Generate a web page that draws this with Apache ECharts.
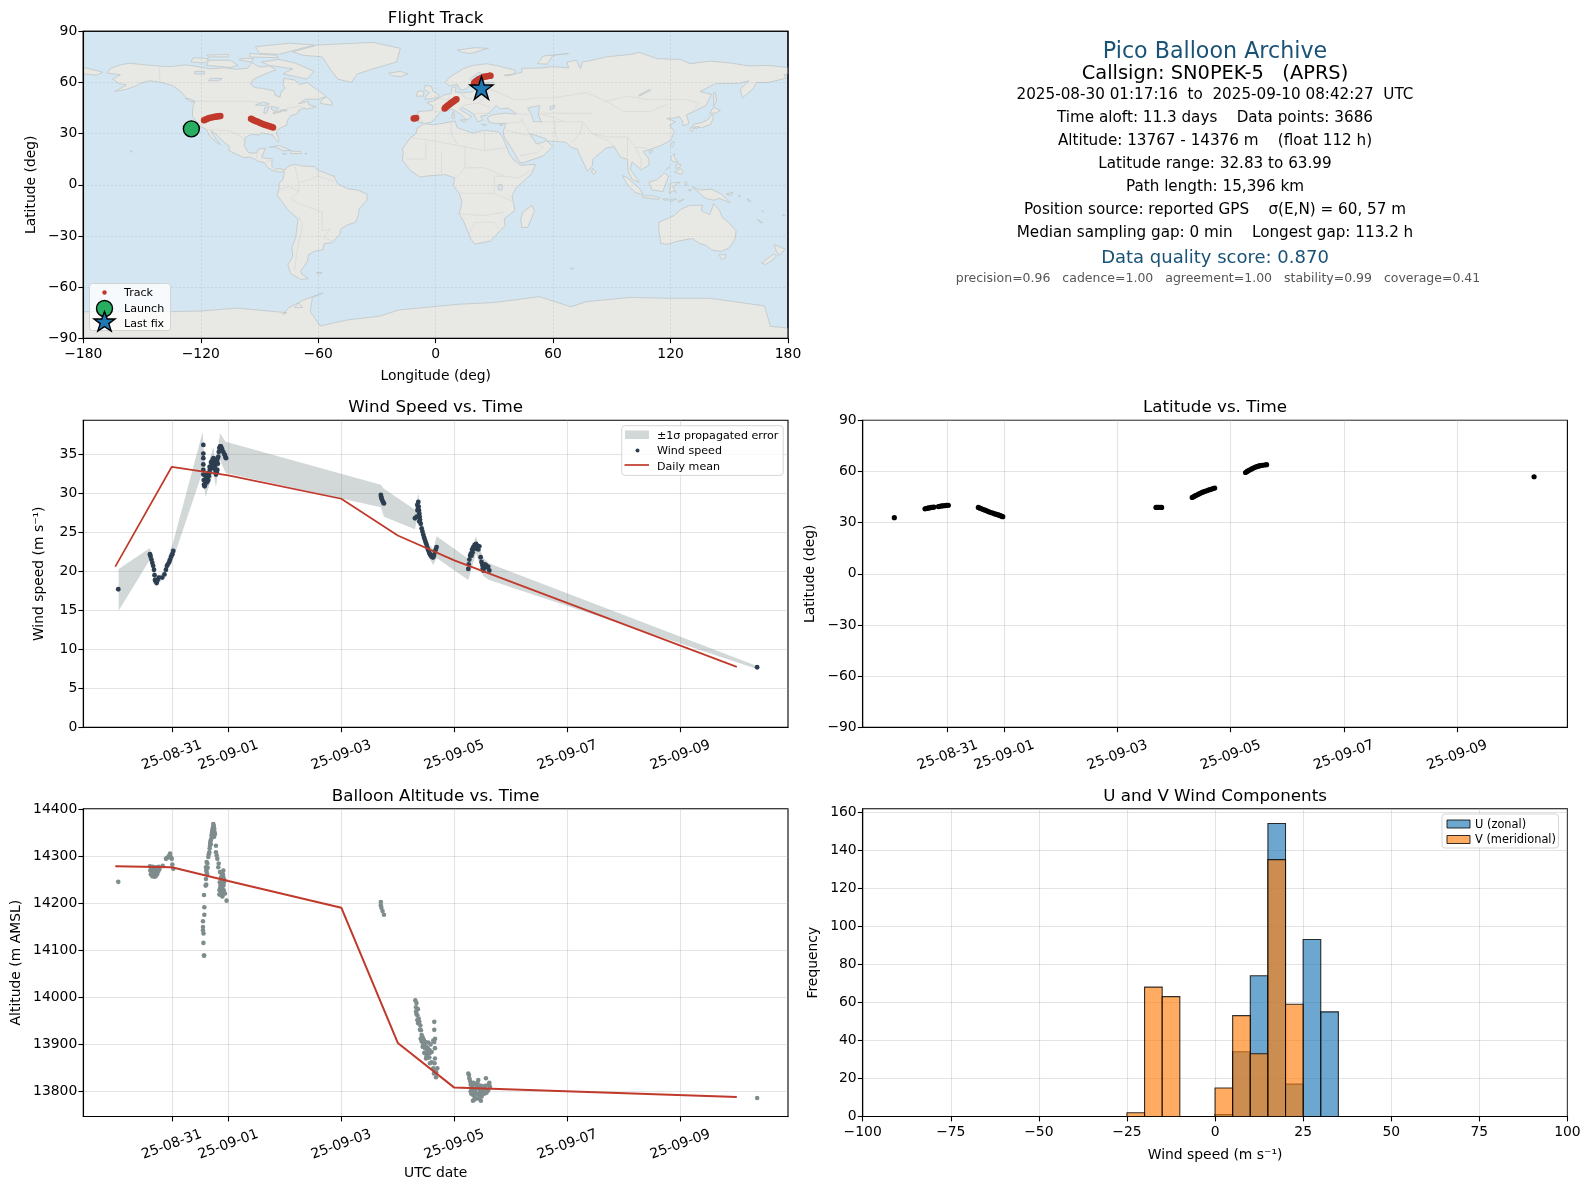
<!DOCTYPE html>
<html><head><meta charset="utf-8">
<style>html,body{margin:0;padding:0;background:#fff}#c{width:1590px;height:1189px}</style>
<script src="https://cdn.jsdelivr.net/npm/echarts@6/dist/echarts.min.js"></script>
</head><body><div id="c"></div>
<script>
// ---------- data: time is days from 2025-09-01 00:00 UTC ----------
const dateTickDays = [-1, 0, 2, 4, 6, 8];
const dateTickLabels = ['25-08-31', '25-09-01', '25-09-03', '25-09-05', '25-09-07', '25-09-09'];
const windTicks = [0, 5, 10, 15, 20, 25, 30, 35];
const altTicks = [13800, 13900, 14000, 14100, 14200, 14300, 14400];
const freqTicks = [0, 20, 40, 60, 80, 100, 120, 140, 160];

const windPoints = [[-1.947,17.7],
[-1.386,22.2],[-1.375,21.9],[-1.36,21.5],[-1.345,21.1],[-1.33,20.7],[-1.315,20.2],[-1.305,19.5],[-1.297,18.9],[-1.285,18.7],[-1.268,18.5],[-1.25,18.9],[-1.227,19.2],[-1.168,19.2],[-1.13,19.6],[-1.103,20.2],[-1.085,20.7],[-1.07,20.9],[-1.044,21.2],[-1.03,21.5],[-1.01,21.9],[-.99,22.2],[-.974,22.6],
[-.442,36.2],[-.442,35.1],[-.442,34.5],[-.442,33.7],[-.442,33.0],[-.442,32.4],[-.435,31.7],[-.43,31.1],[-.42,30.9],[-.413,31.0],[-.405,31.5],[-.395,31.9],[-.38,31.4],[-.365,31.6],[-.354,31.7],[-.345,32.2],[-.336,32.6],[-.325,33.0],[-.312,33.4],[-.295,33.9],[-.277,34.3],[-.262,34.5],[-.248,34.3],[-.242,33.8],[-.236,33.4],[-.226,32.9],[-.218,32.4],[-.205,32.7],[-.194,33.0],[-.185,33.8],[-.177,34.7],[-.168,35.3],[-.159,35.8],[-.145,36.0],[-.13,36.0],[-.11,35.7],[-.088,35.3],[-.068,35.0],[-.047,34.6],[-.06,34.9],[-.04,34.5],
[-.4,32.2],[-.375,32.4],[-.35,32.6],[-.33,33.4],[-.305,34.0],[-.285,33.4],[-.27,33.4],[-.255,33.2],[-.2,34.2],[-.19,34.5],
[2.70,29.8],[2.705,29.6],[2.71,29.4],[2.72,29.2],[2.73,29.0],[2.745,28.8],[2.755,28.7],
[3.304,26.8],[3.334,27.0],[3.35,27.8],[3.363,28.9],[3.369,28.3],[3.375,27.8],[3.381,27.4],[3.387,27.0],[3.393,26.6],[3.405,26.1],[3.422,25.5],[3.436,25.1],[3.451,24.7],[3.466,24.3],[3.481,24.0],[3.495,23.7],[3.51,23.4],[3.525,23.0],[3.54,22.7],[3.555,22.4],[3.569,22.2],[3.585,22.0],[3.599,21.9],[3.615,21.8],[3.628,21.8],[3.642,22.1],[3.658,22.5],[3.672,22.8],[3.687,23.1],
[3.345,28.5],[3.358,28.0],[3.37,27.0],[3.38,26.4],
[4.248,20.3],[4.255,20.9],[4.266,21.5],[4.28,22.0],[4.295,22.3],[4.315,22.8],[4.336,23.1],[4.36,23.4],[4.384,23.5],[4.41,23.3],[4.443,23.2],[4.466,21.8],[4.482,21.2],[4.496,20.8],[4.505,20.4],[4.513,20.1],[4.53,20.5],[4.56,20.8],[4.58,20.5],[4.6,20.6],[4.62,20.1],
[4.305,22.0],[4.325,22.4],[4.35,22.9],[4.375,23.0],[4.4,22.9],[4.425,22.8],[4.54,20.9],
[9.36,7.7]];

const windBandUpper = [[-1.941,20.3],[-1.386,23.0],[-1.28,19.5],[-1.168,19.7],[-.974,23.8],[-.453,37.9],[-.405,32.6],[-.264,35.9],[-.218,33.6],[-.147,37.7],[-.047,36.6],[2.70,31.1],[2.755,30.6],[3.304,27.9],[3.363,30.0],[3.422,26.6],[3.54,23.6],[3.628,22.8],[3.687,24.5],[4.248,21.6],[4.384,24.5],[4.513,21.7],[4.62,21.0],[9.345,7.9]];
const windBandLower = [[-1.941,14.95],[-1.386,21.5],[-1.28,18.1],[-1.168,18.9],[-.974,21.6],[-.453,32.8],[-.405,29.5],[-.264,32.6],[-.218,30.8],[-.147,34.3],[-.047,32.6],[2.70,28.2],[2.755,27.0],[3.304,25.4],[3.363,27.4],[3.422,24.5],[3.54,21.9],[3.628,20.8],[3.687,21.7],[4.248,18.9],[4.384,22.3],[4.513,19.4],[4.62,18.9],[9.345,7.5]];

const windDailyMean = [[-2,20.6],[-1,33.4],[0,32.3],[2,29.3],[3,24.6],[4,21.4],[9,7.75]];
const altDailyMean = [[-2,14279],[-1,14277],[0,14248],[2,14191],[3,13903],[4,13808],[9,13788]];

const altPoints = [[-1.947,14246],
[-1.386,14279],[-1.38,14270],[-1.37,14262],[-1.36,14275],[-1.35,14265],[-1.345,14258],[-1.335,14278],[-1.33,14268],[-1.32,14260],[-1.31,14257],[-1.305,14272],[-1.295,14264],[-1.285,14258],[-1.28,14277],[-1.27,14268],[-1.26,14262],[-1.25,14275],[-1.24,14268],[-1.23,14278],[-1.22,14273],[-1.16,14280],
[-1.103,14295],[-1.085,14297],[-1.06,14299],[-1.045,14302],[-1.03,14306],[-1.015,14298],[-1.0,14295],[-.99,14283],[-.974,14274],
[-.43,14089],[-.428,14089],[-.44,14116],[-.438,14136],[-.448,14143],[-.448,14150],[-.448,14162],[-.424,14176],[-.424,14192],[-.43,14218],
[-.401,14238],[-.395,14252],[-.383,14267],[-.395,14277],[-.365,14276],[-.383,14288],[-.354,14299],[-.336,14309],[-.324,14323],[-.33,14317],[-.312,14334],[-.32,14329],[-.295,14345],[-.3,14338],[-.283,14355],[-.29,14350],[-.265,14369],[-.27,14362],[-.248,14359],[-.26,14352],[-.236,14348],[-.25,14342],
[-.275,14358],[-.255,14365],[-.245,14352],[-.28,14345],[-.31,14326],[-.39,14270],[-.375,14262],[-.39,14240],[-.37,14285],[-.345,14305],
[-.218,14323],[-.218,14309],[-.205,14302],[-.194,14295],[-.177,14277],[-.17,14285],[-.147,14267],[-.118,14263],[-.088,14270],[-.088,14256],[-.077,14245],[-.118,14242],[-.147,14231],[-.159,14219],[-.1,14228],[-.059,14221],[-.03,14206],[-.13,14255],[-.1,14250],[-.085,14238],[-.11,14232],[-.135,14225],[-.09,14222],[-.105,14215],[-.07,14250],[-.095,14262],[-.15,14245],[-.14,14238],[-.12,14250],[-.1,14240],[-.08,14228],[-.155,14228],[-.125,14218],
[2.70,14203],[2.70,14196],[2.71,14191],[2.73,14184],[2.755,14176],
[3.31,13994],[3.322,13979],[3.322,13970],[3.345,13962],[3.345,13952],[3.381,13948],[3.393,13931],[3.422,13920],[3.422,13906],[3.451,13899],[3.481,13892],[3.481,13881],[3.51,13874],[3.558,13872],[3.569,13860],[3.628,13849],[3.658,13842],[3.676,13830],[3.699,13849],[3.658,13870],[3.658,13892],[3.628,13908],[3.646,13931],[3.646,13948],[3.54,13904],[3.599,13884],[3.5,13895],[3.52,13885],[3.46,13910],[3.4,13940],[3.37,13955],[3.33,13988],[3.54,13880],[3.5,13870],
[3.33,13965],[3.355,13975],[3.36,13945],[3.41,13930],[3.405,13912],[3.44,13915],[3.44,13895],[3.47,13900],[3.47,13882],[3.49,13905],[3.5,13882],[3.53,13892],[3.53,13872],[3.56,13888],[3.58,13900],[3.645,13905],[3.66,13912],[3.65,13860],[3.68,13840],[3.64,13838],[3.57,13882],[3.6,13862],
[4.248,13838],[4.266,13828],[4.29,13814],[4.307,13803],[4.337,13792],[4.366,13785],[4.396,13810],[4.425,13824],[4.455,13799],[4.484,13789],[4.513,13810],[4.56,13828],[4.602,13814],[4.631,13810],[4.32,13812],[4.366,13801],[4.425,13806],[4.484,13804],[4.54,13804],[4.58,13804],[4.35,13782],[4.41,13795],[4.44,13785],[4.47,13812],[4.53,13795],[4.3,13795],[4.38,13815],
[4.26,13835],[4.28,13822],[4.29,13800],[4.31,13815],[4.335,13805],[4.35,13797],[4.38,13795],[4.41,13818],[4.44,13812],[4.46,13792],[4.5,13798],[4.52,13802],[4.55,13812],[4.57,13797],[4.6,13802],[4.62,13818],[4.33,13780],[4.4,13785],[4.47,13780],[4.34,13818],
[9.36,13786]];

const latPoints = [[-1.943,32.9],
[-1.401,38.1],[-1.38,38.3],[-1.361,38.4],[-1.34,38.6],[-1.313,38.7],[-1.29,38.9],[-1.265,39.0],[-1.242,39.1],
[-1.165,39.4],[-1.14,39.6],[-1.106,39.8],[-1.08,39.9],[-1.047,40.0],[-1.02,40.1],[-.989,40.2],
[-.459,38.9],[-.43,38.5],[-.4,38.1],[-.371,37.7],[-.34,37.3],[-.31,36.9],[-.282,36.5],[-.25,36.1],[-.22,35.8],[-.194,35.5],[-.165,35.1],[-.135,34.8],[-.106,34.5],[-.08,34.2],[-.05,33.8],[-.028,33.5],
[2.68,38.9],[2.7,39.0],[2.72,39.0],[2.75,39.0],[2.78,38.9],
[3.32,44.8],[3.35,45.3],[3.375,45.8],[3.40,46.2],[3.43,46.7],[3.46,47.2],[3.487,47.6],[3.515,48.0],[3.545,48.4],[3.575,48.7],[3.605,49.1],[3.635,49.4],[3.664,49.7],[3.69,50.0],[3.717,50.3],
[4.263,59.4],[4.29,60.0],[4.315,60.5],[4.34,61.0],[4.37,61.5],[4.4,62.0],[4.428,62.4],[4.458,62.8],[4.487,63.1],[4.516,63.4],[4.555,63.6],[4.595,63.8],[4.634,63.99],
[9.36,56.9]];

const trackPoints = [[-118.3,37.8],[-117.5,38.3],[-116.6,38.7],[-115.7,39.1],[-114.5,39.4],[-113.4,39.7],[-112.6,39.9],[-111.8,40.1],[-110.9,40.2],[-110,40.3],
[-94.3,38.7],[-93.4,38.2],[-92.6,37.7],[-91.7,37.3],[-90.9,37.0],[-89.9,36.4],[-89,35.9],[-88,35.5],[-87,35.1],[-86,34.7],[-85,34.4],[-84,34.0],[-83.1,33.6],
[-11.2,38.8],[-10.6,39.0],[-10,39.1],
[4.6,44.8],[5.2,45.4],[5.8,46],[6.4,46.6],[7,47.1],[7.6,47.7],[8.2,48.2],[8.8,48.7],[9.4,49.2],[10,49.7],[10.6,50.2],
[19.6,59.6],[20.2,60.4],[21,61],[21.8,61.7],[22.6,62.2],[23.5,62.7],[24.5,63.2],[25.5,63.5],[26.5,63.7],[27.5,63.9],[28,64]];
const launchPoint = [-124.8, 32.8];
const lastFixPoint = [23.4, 56.9];

const histEdgesU = [[0,5,1],[5,10,34],[10,15,74],[15,20,154],[20,25,17],[25,30,93],[30,35,55]];
const histEdgesV = [[-25,-20,2],[-20,-15,68],[-15,-10,63],[0,5,15],[5,10,53],[10,15,33],[15,20,135],[20,25,59]];

const mainlandShapes = [
// North America
[[-168,65.5],[-166,68.3],[-161,70.3],[-156.5,71.3],[-150,70.5],[-141,69.6],[-135,69.3],[-128,70.3],[-124,69.8],[-115,68],[-108,68.6],[-102,67.8],[-96,68.3],[-94,71.8],[-90,69],[-85,69.7],[-81.5,67.5],[-87,65],[-93,62],[-94.5,59],[-92.5,57],[-88,56.5],[-82.5,55],[-82,52.5],[-79.5,51.3],[-79,54.5],[-76.8,56.5],[-78,58.8],[-77.5,62.4],[-72,61.5],[-69.5,58.8],[-65.5,60],[-61.5,56.5],[-57,53],[-56,51.7],[-60,50.2],[-66.5,50.2],[-70,47.5],[-65,49],[-64.8,47],[-61,45.8],[-66,44.3],[-67,45],[-70,43.7],[-70.5,41.7],[-74,40.6],[-75.8,37.5],[-76,35],[-78.5,33.8],[-81,32],[-81.3,30],[-80,26.8],[-80.5,25.2],[-82,26.8],[-83,29],[-85,29.7],[-89,30.3],[-90,29.2],[-94,29.6],[-97.3,27.8],[-97.7,22.5],[-95.5,18.8],[-91.5,18.5],[-90.5,21],[-87,21.5],[-88.3,17.5],[-88.8,15.9],[-83.5,15.2],[-83.7,11],[-82,9],[-79.5,9.5],[-77.3,8.6],[-78,7.5],[-80.5,7.5],[-83,8.3],[-85.7,10],[-87.5,13],[-91,14],[-94.5,16.2],[-98,16],[-102,18],[-105.5,20],[-105.5,22.5],[-109,26],[-112.5,30],[-114.8,31.7],[-113,28],[-110,23.5],[-112,25],[-115,28],[-117.2,32.5],[-120.6,34.5],[-122.5,37.7],[-124.3,40.3],[-124,46],[-123,49],[-127.5,51],[-130,54.5],[-134,58],[-140,60],[-146,61],[-151,59.5],[-153,58],[-158,56],[-164,54.7],[-158,58.5],[-162,59.5],[-165,62],[-161,64.5]],
// South America
[[-77.3,8.6],[-75,11],[-72,12],[-68,11],[-62,10.7],[-60,8.5],[-52,5],[-50,0.5],[-44.5,-2.5],[-40,-3],[-35,-5.5],[-35,-9],[-39,-14],[-39.5,-18],[-41,-22],[-45,-23.5],[-48.5,-26],[-49,-29],[-53,-34],[-57,-34.5],[-57.5,-38],[-62,-39],[-65,-41],[-65.5,-45],[-69,-50.5],[-68.3,-52.5],[-65,-55],[-69,-55.5],[-74,-52],[-75.5,-47],[-73,-42],[-73.5,-37],[-71.5,-31],[-70.3,-20],[-76,-14],[-81,-6],[-80,-2.5],[-80,1],[-78,3],[-77.5,6]],
// Africa
[[-6,35.8],[-1,35.2],[10,37.3],[11,33.5],[19,30.3],[25,32],[32,31],[34.2,28],[36,23],[37.5,18.5],[39.5,15],[43.3,11.5],[51,12],[49,6.5],[41,-2],[39,-6.5],[40.5,-15],[35,-20],[35.5,-24],[32.8,-27],[28,-33],[20,-34.8],[18,-32],[14.5,-22],[12,-17],[13.5,-10],[12,-5],[9,-0.5],[9.7,4],[5,6],[-4,5.2],[-8,4.5],[-13,8.5],[-17,14.5],[-16.5,19],[-17,21],[-13,27.5],[-10,30],[-9.5,33]],
// Eurasia
[[-9,37],[-9.3,39],[-9,43],[-2,43.5],[-1.2,46],[-4.5,48.3],[-1.5,49],[2,51],[4,52.5],[8,53.7],[8.3,57],[10.5,57.5],[10,54.5],[14,54],[19,54.5],[21,57],[24,57.3],[23.5,59.3],[30,60],[23,60],[21.3,62],[25,65],[22,65.8],[17.5,62],[18.8,60],[16.5,57],[14,55.5],[12.5,56],[11,59],[7,58],[5,60],[7,63],[14,68],[19,70],[26,71],[31,70],[41,67],[40,65],[35,64.3],[37,63.9],[44,66],[44,68.3],[54,68.5],[60,69.3],[68,68.5],[67,72],[72,73],[74,68],[75,72],[80,73],[87,75],[100,76.5],[104,77.7],[113,74],[125,73.5],[130,71],[140,72.5],[150,71.5],[160,69.7],[170,70],[180,68.8],[180,65],[178,64.5],[179,62.5],[170,60],[164,60],[162,56],[156.7,51],[155.5,56],[160,61],[155,59.5],[143,59.3],[135,54.7],[141,53],[138,46.5],[132,43],[128,41],[129.5,36],[126.5,34.5],[126,37.5],[124.5,40],[121.5,39],[118,39],[122.5,37],[119.5,35],[122,31],[120,26],[114,22.5],[110,21],[106,19.5],[109,15],[109,11.5],[105,8.8],[100.3,13.5],[99.5,9],[104,1.5],[100.5,3],[98.3,8],[98,15],[94.5,16],[91,22.5],[87,21.5],[80.3,15],[80,11],[77.5,8],[73,19],[72.5,21],[69,22],[66.5,25],[57,25.7],[56.3,27],[51,29],[48,30],[50,26.5],[51.5,24],[55,25],[56.5,26],[59.8,22.5],[55,17],[45,13],[43,13],[39,21],[35,28],[34.5,31],[36,36],[30,36],[27,37],[26.5,39.5],[29,41],[35,42],[41.5,41.5],[37,45],[33,44.5],[31,46.5],[28,43],[26,40.8],[23,40.3],[24,37.8],[21.5,37],[19.5,41.5],[13.5,45.5],[12.3,44.2],[18.5,40],[16,38],[12,42],[8.5,44.3],[3,43.2],[0,39.5],[-2,36.8],[-5.5,36]],
// Chukotka west of the date line
[[-180,68.8],[-175,67.5],[-170,66],[-173,64.3],[-180,65]],
// Antarctica
[[-180,-74.4],[-136,-74.4],[-120,-74],[-101.6,-72.3],[-90,-73.5],[-76,-75],[-78,-76],[-75,-72],[-67.6,-67.6],[-57.5,-63.3],[-63,-66],[-64,-74.4],[-59,-82.8],[-45.5,-79.3],[-28.4,-77],[-19,-73.4],[12,-70],[30,-69],[53,-65.6],[69,-71.5],[77,-68.5],[100,-66],[116,-66.5],[140,-66.5],[168,-71],[171,-83],[180,-84],[180,-90],[-180,-90]]
];
const islandShapes = [
// Greenland
[[-73,78],[-60,82],[-32,83.5],[-18,80],[-20,72],[-32,68],[-40,65],[-43,60],[-50,62],[-54,68],[-58,75],[-68,76]],
// Arctic Canada
[[-80,73.5],[-72,71.5],[-62,66.5],[-66,62],[-72,63.5],[-78,65],[-73,68],[-85,70],[-89,72]],
[[-117,70],[-105,68.8],[-101,70],[-105,73],[-116,73]],
[[-90,77],[-80,76.5],[-62,82],[-75,83],[-92,81]],
[[-125,72],[-118,71.5],[-116,74],[-124,74.5]],
[[-95,75],[-80,74.5],[-82,76],[-95,77]],
[[-116,75],[-106,75],[-106,76.5],[-117,76]],
[[-100,73],[-94,72],[-93,74],[-100,74]],
[[-59,47.7],[-53,46.7],[-53,48.8],[-56,51.5],[-58,50]],
[[-128,50.8],[-125,50],[-123.5,48.5],[-125.5,48.8]],
// Caribbean
[[-85,22],[-80,23],[-74,20.2],[-78,19.9],[-82,22.3]],
[[-74,19.8],[-69,19.5],[-68.5,18.4],[-74,18.2]],
[[-78.3,18.4],[-76.3,18.2],[-77,17.8]],
[[-67,18.4],[-65.7,18.3],[-66,18]],
// Hawaii
[[-156,20],[-155,19.8],[-155.5,19]],
// Falklands
[[-61,-51.5],[-58,-51.5],[-59.5,-52.3]],
// Europe islands
[[-5.5,50],[1.5,51.2],[1.7,52.8],[-1.5,55],[-2,57.5],[-5,58.6],[-6,56],[-3,54],[-5,52]],
[[-10,52],[-6.2,52],[-6,54.8],[-9,55]],
[[-24,65.5],[-18,66.5],[-14,65],[-18,63.4],[-22.5,64]],
[[11,79],[20,80.4],[27,80],[18,77],[14,77.5]],
[[52,71],[57,70.7],[60,76],[68,77],[55,75.5]],
[[12.5,38],[15.5,38.2],[15,36.7]],
[[8.2,41],[9.7,41],[9.5,39],[8.5,39]],
[[9,43],[9.5,42.7],[9.2,41.5],[8.7,41.8]],
[[23.5,35.5],[26,35.2],[24.5,34.9]],
[[32.5,35],[34.5,35.6],[33.5,34.6]],
// Africa / Indian Ocean
[[49.3,-12],[50.5,-15.5],[47,-25],[44,-25],[43.5,-20],[44.5,-16]],
[[80,9.7],[82,7.5],[80.7,5.9],[79.8,7.5]],
[[69,-48.8],[70.5,-49],[69.5,-49.7]],
// East Asia
[[131,34],[136,33.5],[140.5,35.5],[142,39.5],[141,41.5],[139.5,38.5],[136,36.5],[132,35.5]],
[[140,42],[143,42],[145.5,43.5],[142,45.5]],
[[130,33.5],[132,33],[131,31],[130,32]],
[[132.5,34],[134.5,34.2],[134,33.4],[132.8,32.9]],
[[142,46],[143.5,49],[143,54],[142,54],[142,50]],
[[120,23],[121,22],[122,25],[121,25]],
[[109,20],[111,20],[109.5,18.3]],
// Southeast Asia
[[120,16],[122,18.5],[122,16],[124,13],[121,13.7]],
[[122,7.5],[125.5,6],[126.5,8],[125,9.5]],
[[122.5,11.5],[125,12.3],[125,10.5],[123,9.5]],
[[117.5,8.5],[119.5,11],[119,10]],
[[109,1.5],[113,3],[117,7],[119,5],[117.7,1],[116,-4],[110.5,-3]],
[[95.3,5.5],[98,4],[104,-2],[106,-5.8],[102,-4.5],[98,0]],
[[105.5,-6.5],[111,-6.5],[114.5,-7.7],[114,-8.6],[106,-7.5]],
[[119.5,-5.5],[120,1],[125,1.5],[121,-1],[123,-4.5],[121,-3.5]],
[[116,-8.3],[119,-8.3],[119,-9],[116.5,-9]],
[[120,-8.5],[123,-8.3],[120,-10]],
[[124,-9.5],[127,-8.5],[124,-10.3]],
[[127.5,2],[128.5,1],[128,-0.8],[127.5,0.5]],
[[129,-3],[130.8,-3],[130,-3.6]],
// Oceania
[[131,-1],[135,-3],[141,-2.6],[146,-5.5],[150.5,-10.5],[145,-8],[142,-9],[138,-8],[134,-4]],
[[148.5,-5.5],[152,-4.2],[151,-6.2]],
[[155,-6],[156,-7],[154.8,-6.8]],
[[159,-8],[161,-9.5],[160,-9.8]],
[[166.8,-15],[167.5,-16],[167,-16]],
[[164.2,-20.2],[167,-22.2],[166,-22.3]],
[[177.2,-17.5],[178.5,-18],[177.5,-18.2]],
[[114,-22],[122,-18],[125,-14.5],[130,-12],[136.5,-12],[135.5,-15],[140,-17.5],[142,-11],[145,-15],[146.5,-19],[150,-22.5],[153.5,-27],[153,-31.5],[150,-37],[146,-39],[141,-38.3],[138,-35.5],[135,-34.5],[131,-31.5],[124,-33],[118,-35],[115,-34.3],[114,-26]],
[[144.7,-41],[148.3,-41],[148,-43],[146,-43.6]],
[[173,-35],[178.5,-37.7],[175.5,-41.5],[174,-39]],
[[172.8,-40.7],[174.3,-41.7],[171,-45],[168.5,-46.7],[166.5,-46],[171,-42]],
[[-70,-69],[-68,-72],[-72,-72]]
];
const waterShapes = [
[[47,45],[53,46.5],[52.5,41],[54,37],[50,37],[49,41]],
[[58.5,46],[61,46.5],[60,44.5],[58.5,44]],
[[-92,46.8],[-88,48.5],[-85,47.5],[-87,46.5]],
[[-87.8,42],[-86.3,42],[-85.2,45.7],[-87.3,45.3]],
[[-84,46],[-80,45],[-82,43],[-83.7,44]],
[[-83,41.7],[-79,42.8],[-79.5,43.2],[-83,42.3]],
[[-79.5,43.3],[-76,43.4],[-76.2,44],[-79,43.9]],
[[-115,62.5],[-109,62.3],[-111,61],[-116,61]],
[[-123,66.5],[-118,66.5],[-118,65],[-123,65]],
[[32,0],[34,0],[34,-3],[32,-3]],
[[104,52],[110,55.5],[109,55.8],[104,52.7]]
];
const borderLines = [
[[-123,49],[-95,49],[-89,48],[-83,45.5],[-79,43],[-75,45],[-70,46],[-67,45]],
[[-141,69.6],[-141,60]],
[[-117,32.5],[-106.5,31.8],[-101,29.5],[-97.3,26]],
[[-92,14.5],[-91,18]],[[-89,18],[-88.5,16]],[[-83.2,15],[-87,13]],
[[12,23],[25,20],[25,32]],[[-13,27.5],[-8,27],[12,23]],[[25,20],[37,22]],[[15,23],[15,10],[25,10],[35,5],[42,4]],
[[10,4],[15,10]],[[12,-5],[30,-5],[40,-10]],[[12,-17],[25,-18],[35,-16]],[[17,-29],[20,-22],[30,-22],[32,-26]],
[[-5,25],[-5,15],[-15,15]],[[3,19],[3,6]],[[30,-5],[30,5],[35,5]],[[8,37],[8,30],[11,24]],[[42,4],[48,8]],
[[-70,-18],[-68,-23],[-71,-40],[-72,-50]],[[-70,-11],[-58,-16],[-58,-27],[-54,-26],[-57,-31],[-53,-33]],
[[-70,-4],[-70,1],[-60,5]],[[-80,-3],[-75,-1],[-70,-4]],[[-70,-4],[-74,-8],[-70,-11]],[[-72,12],[-70,1]],[[-60,8.5],[-60,5],[-52,2]],
[[28,56],[40,50],[47,50],[50,51],[60,51],[77,54],[87,49],[98,52],[108,50],[118,50],[127,50],[135,48],[131,43]],
[[87,49],[96,43],[110,43],[118,47]],[[44,39],[46,34],[48,30]],[[61,37],[61,30],[63,25]],[[53,37],[61,37],[75,37]],
[[75,37],[80,30],[88,28],[98,28],[102,22],[108,21.5]],[[75,37],[74,31],[70,25]],[[80,30],[88,26],[92,22]],[[98,28],[98,16]],[[102,22],[105,15],[105,10]],
[[-2,43.5],[3,42.5]],[[2,51],[6,49.5],[8,48],[7,44]],[[8,54.7],[7,52],[6,49.5]],[[14,54],[15,51],[24,50],[22,48],[28,45]],
[[14,46.5],[22,48]],[[20,42],[28,42]],[[36,32],[47,29],[48,30]],[[43,17],[52,19],[55,22],[52,24]],[[-9,42],[-7,37]],
[[28,56],[28,60]],[[24,50],[28,56]],[[12,54],[15,51]],[[36,36],[44,37],[44,39]],[[40,42],[48,41]],[[53,42],[66,37]],[[55,42],[70,42],[80,42]]
];

const textPanelLines = [
 {t:'Pico Balloon Archive', s:22.2, c:'#1a5276', y:52},
 {t:'Callsign: SN0PEK-5   (APRS)', s:19.4, c:'#000', y:74},
 {t:'2025-08-30 01:17:16  to  2025-09-10 08:42:27  UTC', s:15.2, c:'#000', y:95.5},
 {t:'Time aloft: 11.3 days    Data points: 3686', s:15.2, c:'#000', y:118.5},
 {t:'Altitude: 13767 - 14376 m    (float 112 h)', s:15.2, c:'#000', y:141.5},
 {t:'Latitude range: 32.83 to 63.99', s:15.2, c:'#000', y:164.5},
 {t:'Path length: 15,396 km', s:15.2, c:'#000', y:187.5},
 {t:'Position source: reported GPS    σ(E,N) = 60, 57 m', s:15.2, c:'#000', y:210.5},
 {t:'Median sampling gap: 0 min    Longest gap: 113.2 h', s:15.2, c:'#000', y:233.5},
 {t:'Data quality score: 0.870', s:18, c:'#1a5276', y:258},
 {t:'precision=0.96   cadence=1.00   agreement=1.00   stability=0.99   coverage=0.41', s:12.5, c:'#555', y:278.5, x:1218}
];

// ---------- layout ----------
const FONT = '"DejaVu Sans", sans-serif';
const L = {l:83.3, w:704.7}, R = {l:862.7, w:704.7};
const rows = [{t:31.3, h:307}, {t:420.3, h:307}, {t:808.8, h:307.7}];
const grids = [
  {left:L.l, width:L.w, top:rows[0].t, height:rows[0].h},
  {left:L.l, width:L.w, top:rows[1].t, height:rows[1].h},
  {left:R.l, width:R.w, top:rows[1].t, height:rows[1].h},
  {left:L.l, width:L.w, top:rows[2].t, height:rows[2].h},
  {left:R.l, width:R.w, top:rows[2].t, height:rows[2].h}
].map((g,i) => Object.assign(g, {show:true, borderColor:'#000', borderWidth:1.1, backgroundColor: i===0 ? '#d4e6f1' : 'transparent'}));

const minus = v => String(v).replace('-', '\u2212');
const xLabel = {color:'#000', fontFamily:FONT, fontSize:13.9, margin:9};
const yLabel = {color:'#000', fontFamily:FONT, fontSize:13.9, margin:6, padding:[4,0,0,0]};
const baseTick = {show:true, length:4.9, lineStyle:{color:'#000', width:1.1}, inside:false};
const gridLine = {show:true, lineStyle:{color:'#b0b0b0', opacity:0.35, width:1.1}};
const nameStyle = {color:'#000', fontFamily:FONT, fontSize:13.9};
const axisLine = {show:true, onZero:false, lineStyle:{color:'#000', width:1.1}};

function dateAxis(gridIndex, min, max, name, gap) {
  return {type:'value', gridIndex, min, max, name:name||'', nameLocation:'middle', nameGap:gap||0, nameTextStyle:nameStyle,
    axisLine, axisTick:Object.assign({customValues:dateTickDays}, baseTick), splitLine:gridLine,
    axisLabel:Object.assign({}, xLabel, {customValues:dateTickDays, rotate:20, align:'center', verticalAlign:'middle', margin:28,
      hideOverlap:false, formatter:v => dateTickLabels[dateTickDays.indexOf(v)] || ''})};
}
function valAxis(gridIndex, min, max, ticks, name, gap, fmt) {
  return {type:'value', gridIndex, min, max, name, nameLocation:'middle', nameGap:gap, nameRotate:90, nameTextStyle:nameStyle,
    axisLine, axisTick:Object.assign({customValues:ticks}, baseTick), splitLine:gridLine,
    axisLabel:Object.assign({}, yLabel, {customValues:ticks, showMinLabel:true, showMaxLabel:true, formatter:fmt||(v=>minus(v))})};
}
const mapGrid = {show:true, lineStyle:{color:'#7f8c8d', opacity:0.28, width:0.7, type:[2,2]}};

const xAxes = [
  {type:'value', gridIndex:0, min:-180, max:180, interval:60, name:'Longitude (deg)', nameLocation:'middle', nameGap:31, nameTextStyle:nameStyle,
   axisLine, axisTick:baseTick, splitLine:mapGrid, axisLabel:Object.assign({}, xLabel, {formatter:minus}), z:3},
  dateAxis(1, -2.566, 9.906),
  dateAxis(2, -2.502, 9.949),
  dateAxis(3, -2.566, 9.906, 'UTC date', 50),
  {type:'value', gridIndex:4, min:-100, max:100, interval:25, name:'Wind speed (m s\u207B\u00B9)', nameLocation:'middle', nameGap:32, nameTextStyle:nameStyle,
   axisLine, axisTick:baseTick, splitLine:gridLine, axisLabel:Object.assign({}, xLabel, {formatter:minus})}
];
const yAxes = [
  {type:'value', gridIndex:0, min:-90, max:90, interval:30, name:'Latitude (deg)', nameLocation:'middle', nameGap:45, nameTextStyle:nameStyle,
   axisLine, axisTick:baseTick, splitLine:mapGrid, axisLabel:Object.assign({}, yLabel, {formatter:minus}), z:3},
  valAxis(1, 0, 39.36, windTicks, 'Wind speed (m s\u207B\u00B9)', 37),
  {type:'value', gridIndex:2, min:-90, max:90, interval:30, name:'Latitude (deg)', nameLocation:'middle', nameGap:45, nameTextStyle:nameStyle,
   axisLine, axisTick:baseTick, splitLine:gridLine, axisLabel:Object.assign({}, yLabel, {formatter:minus})},
  valAxis(3, 13746.5, 14401.5, altTicks, 'Altitude (m AMSL)', 60, v => String(v)),
  valAxis(4, 0, 161.7, freqTicks, 'Frequency', 42)
];

const solid = color => ({color, opacity:1});
const shapeGroup = (shapes, kind, style, z) => ({
  type:'custom', xAxisIndex:0, yAxisIndex:0, z, silent:true, clip:true, data:[[0, 0]],
  renderItem:(p, api) => ({type:'group', children:shapes.map(s => ({type:kind, shape:{points:s.map(c => api.coord(c))}, style}))})
});
const histSeries = (rows, color, z) => ({
  type:'custom', xAxisIndex:4, yAxisIndex:4, z, clip:true, silent:true, data:rows,
  encode:{x:[0,1], y:2},
  renderItem:(p, api) => {
    const a = api.coord([api.value(0), 0]), b = api.coord([api.value(1), api.value(2)]);
    return {type:'rect', shape:{x:a[0], y:b[1], width:b[0]-a[0], height:a[1]-b[1]},
      style:{fill:color, stroke:'rgba(0,0,0,0.8)', lineWidth:1.1}};
  }
});
const landStyle = {fill:'#e8e8e4', stroke:'#c3c9cb', lineWidth:0.9};

const series = [
  shapeGroup(mainlandShapes, 'polygon', landStyle, 1),
  shapeGroup(borderLines, 'polyline', {fill:null, stroke:'#d8dada', lineWidth:0.8}, 1),
  shapeGroup(waterShapes, 'polygon', {fill:'#d4e6f1', stroke:'#c3c9cb', lineWidth:0.9}, 1),
  shapeGroup(islandShapes, 'polygon', landStyle, 1),
  {type:'scatter', name:'Track', xAxisIndex:0, yAxisIndex:0, data:trackPoints, symbolSize:6.5, itemStyle:solid('#c0392b'), z:5, silent:true},
  {type:'scatter', name:'Launch', xAxisIndex:0, yAxisIndex:0, data:[launchPoint], symbolSize:16, itemStyle:{color:'#27ae60', opacity:1, borderColor:'#000', borderWidth:1.4}, z:6, silent:true},
  {type:'scatter', name:'Last fix', xAxisIndex:0, yAxisIndex:0, data:[lastFixPoint], symbol:'path://M50 0 L61.8 36.2 L100 36.2 L69.1 58.6 L80.9 95 L50 72.6 L19.1 95 L30.9 58.6 L0 36.2 L38.2 36.2 Z', symbolSize:23, itemStyle:{color:'#1f77b4', opacity:1, borderColor:'#000', borderWidth:1.4}, z:7, silent:true},

  {type:'custom', name:'\u00B11\u03C3 propagated error', xAxisIndex:1, yAxisIndex:1, z:2, silent:true, clip:true, data:[[windBandUpper[0][0], windBandUpper[0][1]]],
   renderItem:(p, api) => ({type:'polygon', shape:{points:windBandUpper.concat(windBandLower.slice().reverse()).map(c => api.coord(c))},
     style:{fill:'#7f8c8d', opacity:0.35}})},
  {type:'scatter', name:'Wind speed', xAxisIndex:1, yAxisIndex:1, data:windPoints, symbolSize:4.8, itemStyle:solid('#2c3e50'), z:3, silent:true},
  {type:'line', name:'Daily mean', xAxisIndex:1, yAxisIndex:1, data:windDailyMean, showSymbol:false, lineStyle:{color:'#c0392b', width:1.7}, z:4, silent:true},

  {type:'scatter', xAxisIndex:2, yAxisIndex:2, data:latPoints, symbolSize:5.2, itemStyle:solid('#000'), z:3, silent:true},

  {type:'scatter', xAxisIndex:3, yAxisIndex:3, data:altPoints, symbolSize:4.6, itemStyle:solid('#7f8c8d'), z:3, silent:true},
  {type:'line', xAxisIndex:3, yAxisIndex:3, data:altDailyMean, showSymbol:false, lineStyle:{color:'#c0392b', width:2}, z:4, silent:true},

  histSeries(histEdgesU, 'rgba(31,119,180,0.65)', 3),
  histSeries(histEdgesV, 'rgba(255,127,14,0.65)', 4)
];

const titleOf = (text, x, y) => ({text, left:x, top:y, textAlign:'center', textStyle:{fontFamily:FONT, fontSize:16.7, fontWeight:'normal', color:'#000'}, padding:0});
const titles = [
  titleOf('Flight Track', L.l+L.w/2, 10),
  titleOf('Wind Speed vs. Time', L.l+L.w/2, 399),
  titleOf('Latitude vs. Time', R.l+R.w/2, 399),
  titleOf('Balloon Altitude vs. Time', L.l+L.w/2, 788),
  titleOf('U and V Wind Components', R.l+R.w/2, 788)
];

const txt = (x, y, t, size, color, align) => ({type:'text', x, y, z:20, silent:true,
  style:{text:t, fontFamily:FONT, fontSize:size, fill:color||'#000', align:align||'left', verticalAlign:'middle'}});
const box = (x, y, w, h) => ({type:'rect', z:19, silent:true, shape:{x, y, width:w, height:h, r:3},
  style:{fill:'rgba(255,255,255,0.8)', stroke:'rgba(204,204,204,0.8)', lineWidth:1}});

const graphics = [
  // axes frame above the map
  {type:'rect', z:15, silent:true, shape:{x:L.l, y:rows[0].t, width:L.w, height:rows[0].h}, style:{fill:null, stroke:'#000', lineWidth:1.1}},
  // flight-track legend
  box(89.5, 283.5, 81, 47),
  {type:'circle', z:20, silent:true, shape:{cx:104.5, cy:292.5, r:2.2}, style:{fill:'#c0392b'}},
  {type:'circle', z:20, silent:true, shape:{cx:104.5, cy:308.5, r:8}, style:{fill:'#27ae60', stroke:'#000', lineWidth:1.4}},
  {type:'polygon', z:21, silent:true, shape:{points:[[104.5,311.5],[107.2,319],[115,319],[108.8,323.6],[111.2,331],[104.5,326.7],[97.8,331],[100.2,323.6],[94,319],[101.8,319]]}, style:{fill:'#1f77b4', stroke:'#000', lineWidth:1.4}},
  txt(124, 293, 'Track', 11.1), txt(124, 309, 'Launch', 11.1), txt(124, 324, 'Last fix', 11.1),
  // wind legend
  box(621.7, 425.7, 161.5, 49.7),
  {type:'rect', z:20, silent:true, shape:{x:625, y:430.5, width:24, height:8.5}, style:{fill:'#7f8c8d', opacity:0.35}},
  {type:'circle', z:20, silent:true, shape:{cx:637.5, cy:450.5, r:2}, style:{fill:'#2c3e50'}},
  {type:'line', z:20, silent:true, shape:{x1:624.5, y1:465, x2:649, y2:465}, style:{stroke:'#c0392b', lineWidth:1.7}},
  txt(657, 435.7, '\u00B11\u03C3 propagated error', 11.1), txt(657, 451, 'Wind speed', 11.1), txt(657, 466.7, 'Daily mean', 11.1),
  // histogram legend
  box(1442, 814, 116.5, 34),
  {type:'rect', z:20, silent:true, shape:{x:1447, y:820, width:23, height:8}, style:{fill:'rgba(31,119,180,0.65)', stroke:'rgba(0,0,0,0.8)', lineWidth:1}},
  {type:'rect', z:20, silent:true, shape:{x:1447, y:835.5, width:23, height:8}, style:{fill:'rgba(255,127,14,0.65)', stroke:'rgba(0,0,0,0.8)', lineWidth:1}},
  txt(1475, 825.2, 'U (zonal)', 11.4), txt(1475, 840.4, 'V (meridional)', 11.4)
].concat(textPanelLines.map(l => txt(l.x || 1215, l.y, l.t, l.s, l.c, 'center')));

const chart = echarts.init(document.getElementById('c'), null, {renderer:'canvas', width:1590, height:1189});
chart.setOption({animation:false, backgroundColor:'#fff', title:titles, grid:grids, xAxis:xAxes, yAxis:yAxes, series, graphic:graphics});
</script></body></html>
